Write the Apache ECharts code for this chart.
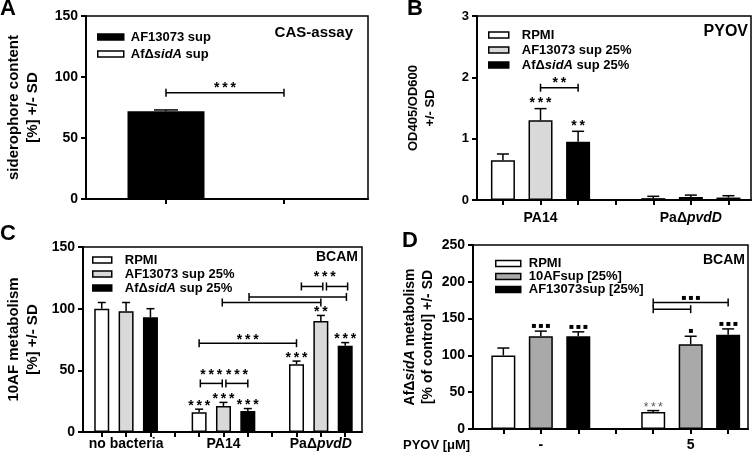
<!DOCTYPE html>
<html><head><meta charset="utf-8">
<script src="https://cdn.jsdelivr.net/npm/echarts@6/dist/echarts.min.js"></script>
<style>html,body{margin:0;padding:0;background:#fff}#c{width:756px;height:457px}</style>
</head><body><div id="c"></div>
<script>
// ================= DATA =================
// Panel A – CAS-assay
const seriesA = ['AF13073 sup', 'AfΔsidA sup'];
const valuesA = [72, 0];
const sdA = [1, 0];
const bracketsA = [[0, 1, 87]];
const bracketTextA = [[0.5, 93.5, '***']];

// Panel B – PYOV
const groupsB = ['PA14', 'PaΔpvdD'];
const seriesB = ['RPMI', 'AF13073 sup 25%', 'AfΔsidA sup 25%'];
const rpmiB = [0.65, 0.03];
const af13073B = [1.30, 0.05];
const sidAB = [0.95, 0.04];
const rpmiSdB = [0.10, 0.03];
const af13073SdB = [0.19, 0.03];
const sidASdB = [0.17, 0.03];
const barStarsB = [[0, 1, '***'], [0, 2, '**']];      // [group, series, label]
const bracketsB = [[1, 2, 1.83]];
const bracketTextB = [[1.5, 1.96, '**']];

// Panel C – BCAM (10AF metabolism)
const groupsC = ['no bacteria', 'PA14', 'PaΔpvdD'];
const seriesC = ['RPMI', 'AF13073 sup 25%', 'AfΔsidA sup 25%'];
const rpmiC = [100, 16, 55];
const af13073C = [98, 21, 90];
const sidAC = [93, 17, 70];
const rpmiSdC = [5, 2.5, 2.5];
const af13073SdC = [7, 3, 4.5];
const sidASdC = [7, 2, 2.5];
const barStarsC = [[1, 0, '***'], [1, 1, '***'], [1, 2, '***'], [2, 0, '***'], [2, 1, '**'], [2, 2, '***']];
const bracketsC = [[4.05, 4.95, 39.4], [5.1, 6.0, 39.4], [4, 8, 72], [4.95, 9, 105], [6.05, 10.05, 109.5], [8.2, 9.08, 118], [9.23, 10.1, 118]];
const bracketTextC = [[4.5, 48.3, '***'], [5.55, 48.3, '***'], [6, 76.8, '***'], [9.16, 128, '***']];

// Panel D – BCAM (AfΔsidA metabolism)
const groupsD = ['-', '5'];
const seriesD = ['RPMI', '10AFsup [25%]', 'AF13073sup [25%]'];
const rpmiD = [100, 23];
const tenAFD = [126, 115];
const af13073D = [126, 128];
const rpmiSdD = [10, 2];
const tenAFSdD = [7, 11];
const af13073SdD = [6, 8];
const barStarsD = [[0, 1, '▪▪▪'], [0, 2, '▪▪▪'], [1, 1, '▪'], [1, 2, '▪▪▪']];
const barStarsD2 = [[1, 0, '***']];
const bracketsD = [[4, 6, 171.8], [4, 5, 162.8]];
const bracketTextD = [[5, 177.7, '▪▪▪']];

// ================= CHART =================
const FONT = '"Liberation Sans", Arial, sans-serif';
const WHITE = '#ffffff', LGRAY = '#d9d9d9', DGRAY = '#a9a9a9', BLACK = '#000000';
const SP = '\u2009';
const spaced = s => s.split('').join(SP);
const ital = s => s.replace(/Δ([A-Za-z]+)/, 'Δ{i|$1}');
const richI = (size) => ({ i: { fontSize: size, fontWeight: 'bold', fontStyle: 'italic', fontFamily: FONT, color: '#000' } });

const grids = [
  { left: 86, top: 16, width: 282, height: 183 },
  { left: 477, top: 16, width: 274, height: 184 },
  { left: 83, top: 247, width: 279, height: 185 },
  { left: 473, top: 245, width: 275, height: 184 }
].map(g => Object.assign(g, { show: true, borderColor: '#000', borderWidth: 1.5, backgroundColor: 'transparent' }));

function yAx(gi, max, interval, name, nameSize, lh, gap, labelSize) {
  return {
    type: 'value', gridIndex: gi, min: 0, max: max, interval: interval,
    name: name, nameLocation: 'middle', nameRotate: 90, nameGap: gap,
    nameTextStyle: { fontSize: nameSize, fontWeight: 'bold', fontFamily: FONT, color: '#000', lineHeight: lh,
      rich: { i: { fontSize: nameSize, fontWeight: 'bold', fontStyle: 'italic', fontFamily: FONT, color: '#000', lineHeight: lh } } },
    axisLine: { show: true, onZero: false, lineStyle: { color: '#000', width: 2 } },
    axisTick: { show: true, length: 5, lineStyle: { color: '#000', width: 2 } },
    axisLabel: { fontSize: labelSize, fontWeight: 'bold', fontFamily: FONT, color: '#000', margin: 8 },
    splitLine: { show: false }
  };
}
function xAx(gi, min, max, ticks, labelVals, groups, margin) {
  return {
    type: 'value', gridIndex: gi, min: min, max: max,
    axisLine: { show: true, onZero: false, lineStyle: { color: '#000', width: 2 } },
    axisTick: { show: true, customValues: ticks, length: 5, lineStyle: { color: '#000', width: 2 } },
    axisLabel: { show: !!labelVals, customValues: labelVals || [], margin: margin || 8,
      formatter: v => groups ? ital(groups[Math.round((v - 1) / 4)]) : '',
      fontSize: 14, fontWeight: 'bold', fontFamily: FONT, color: '#000', rich: richI(14) },
    splitLine: { show: false }
  };
}
const range = n => Array.from({ length: n }, (_, i) => i);

function barSeries(gi, name, xs, vals, color) {
  return {
    type: 'bar', name: name, xAxisIndex: gi, yAxisIndex: gi,
    barWidth: [77, 24, 15, 24][gi], barGap: '-100%',
    itemStyle: { color: color, borderColor: '#000', borderWidth: 1.5 },
    data: vals.map((v, i) => [xs[i], v]), z: 2
  };
}
function errSeries(gi, xs, vals, sds, cap) {
  return {
    type: 'custom', name: 'err' + gi, xAxisIndex: gi, yAxisIndex: gi, z: 3,
    data: vals.map((v, i) => [xs[i], v, sds[i]]),
    renderItem: (params, api) => {
      const x = api.value(0), m = api.value(1), sd = api.value(2);
      if (!(sd > 0)) return;
      const p0 = api.coord([x, m]), p1 = api.coord([x, m + sd]);
      const st = { stroke: '#000', lineWidth: 1.5 };
      return { type: 'group', children: [
        { type: 'line', shape: { x1: p0[0], y1: p0[1], x2: p1[0], y2: p1[1] }, style: st },
        { type: 'line', shape: { x1: p1[0] - cap, y1: p1[1], x2: p1[0] + cap, y2: p1[1] }, style: st }
      ] };
    }
  };
}
function bracketSeries(gi, br) {
  return {
    type: 'custom', name: 'br' + gi, xAxisIndex: gi, yAxisIndex: gi, z: 4,
    data: br, encode: { x: [0, 1], y: 2 },
    renderItem: (params, api) => {
      const y = api.value(2);
      const a = api.coord([api.value(0), y]), b = api.coord([api.value(1), y]);
      const h = 4, st = { stroke: '#000', lineWidth: 1.5 };
      return { type: 'group', children: [
        { type: 'line', shape: { x1: a[0], y1: a[1], x2: b[0], y2: b[1] }, style: st },
        { type: 'line', shape: { x1: a[0], y1: a[1] - h, x2: a[0], y2: a[1] + h }, style: st },
        { type: 'line', shape: { x1: b[0], y1: b[1] - h, x2: b[0], y2: b[1] + h }, style: st }
      ] };
    }
  };
}
function textSeries(gi, pts, labels, pxOff, size, color, weight) {
  return {
    type: 'custom', name: 'txt' + gi, xAxisIndex: gi, yAxisIndex: gi, z: 5,
    data: pts,
    renderItem: (params, api) => {
      const p = api.coord([api.value(0), api.value(1)]);
      const lab = labels[params.dataIndex];
      const isStar = lab.indexOf('*') >= 0;
      return { type: 'text', x: p[0], y: p[1] - pxOff + (isStar ? 3 : 0),
        style: { text: spaced(lab), align: 'center', verticalAlign: 'middle',
          fontSize: size, fontWeight: weight || 'normal',
          fontFamily: isStar ? FONT : '"DejaVu Sans", sans-serif', fill: color } };
    }
  };
}
// bar-star helper: anchored on top of the error bar (derived from data arrays)
function barStarPts(list, valArrs, sdArrs) {
  return list.map(([g, s]) => [g * 4 + s, valArrs[s][g] + sdArrs[s][g]]);
}
function barStarLabels(list) { return list.map(r => r[2]); }

const series = [];
// A
const xsA = [0, 1];
series.push(barSeries(0, seriesA[0], [xsA[0]], [valuesA[0]], BLACK));
series.push(barSeries(0, seriesA[1], [xsA[1]], [valuesA[1]], WHITE));
series.push(errSeries(0, xsA, valuesA, sdA, 12));
series.push(bracketSeries(0, bracketsA));
series.push(textSeries(0, bracketTextA.map(r => [r[0], r[1]]), bracketTextA.map(r => r[2]), 0, 14, '#000', 'bold'));
// B
const valsB = [rpmiB, af13073B, sidAB], sdsB = [rpmiSdB, af13073SdB, sidASdB], colB = [WHITE, LGRAY, BLACK];
valsB.forEach((v, s) => {
  const xs = v.map((_, g) => g * 4 + s);
  series.push(barSeries(1, seriesB[s], xs, v, colB[s]));
});
valsB.forEach((v, s) => series.push(errSeries(1, v.map((_, g) => g * 4 + s), v, sdsB[s], 6)));
series.push(bracketSeries(1, bracketsB));
series.push(textSeries(1, bracketTextB.map(r => [r[0], r[1]]), bracketTextB.map(r => r[2]), 0, 14, '#000', 'bold'));
series.push(textSeries(1, barStarPts(barStarsB, valsB, sdsB), barStarLabels(barStarsB), 8, 14, '#000', 'bold'));
// C
const valsC = [rpmiC, af13073C, sidAC], sdsC = [rpmiSdC, af13073SdC, sidASdC], colC = [WHITE, LGRAY, BLACK];
valsC.forEach((v, s) => {
  const xs = v.map((_, g) => g * 4 + s);
  series.push(barSeries(2, seriesC[s], xs, v, colC[s]));
});
valsC.forEach((v, s) => series.push(errSeries(2, v.map((_, g) => g * 4 + s), v, sdsC[s], 4)));
series.push(bracketSeries(2, bracketsC));
series.push(textSeries(2, bracketTextC.map(r => [r[0], r[1]]), bracketTextC.map(r => r[2]), 0, 14, '#000', 'bold'));
series.push(textSeries(2, barStarPts(barStarsC, valsC, sdsC), barStarLabels(barStarsC), 6, 14, '#000', 'bold'));
// D
const valsD = [rpmiD, tenAFD, af13073D], sdsD = [rpmiSdD, tenAFSdD, af13073SdD], colD = [WHITE, DGRAY, BLACK];
valsD.forEach((v, s) => {
  const xs = v.map((_, g) => g * 4 + s);
  series.push(barSeries(3, seriesD[s], xs, v, colD[s]));
});
valsD.forEach((v, s) => series.push(errSeries(3, v.map((_, g) => g * 4 + s), v, sdsD[s], 6)));
series.push(bracketSeries(3, bracketsD));
series.push(textSeries(3, bracketTextD.map(r => [r[0], r[1]]), bracketTextD.map(r => r[2]), 0, 8, '#000'));
series.push(textSeries(3, barStarPts(barStarsD, valsD, sdsD), barStarLabels(barStarsD), 5, 8, '#000'));
series.push(textSeries(3, barStarPts(barStarsD2, valsD, sdsD), barStarLabels(barStarsD2), 6, 12, '#555'));

function legend(names, left, top, w, lh, gap, pad) {
  return {
    orient: 'vertical', left: left, top: top, icon: 'rect', itemWidth: w, itemHeight: 6, itemGap: gap,
    selectedMode: false, data: names, formatter: n => ital(n),
    itemStyle: { borderColor: '#000', borderWidth: 1.5 },
    textStyle: { fontSize: 13, fontWeight: 'bold', fontFamily: FONT, color: '#000', lineHeight: lh, padding: [0, 0, 0, pad],
      rich: { i: { fontSize: 13, fontWeight: 'bold', fontStyle: 'italic', fontFamily: FONT, color: '#000', lineHeight: lh } } }
  };
}

const txt = (x, y, text, size, align, extra) => ({ type: 'text', x: x, y: y, z: 10,
  style: Object.assign({ text: text, align: align || 'left', verticalAlign: 'middle', fontSize: size, fontWeight: 'bold', fontFamily: FONT, fill: '#000' }, extra || {}) });

const option = {
  animation: false,
  backgroundColor: '#fff',
  grid: grids,
  xAxis: [
    xAx(0, -0.678, 1.712, [0, 1], null, null),
    xAx(1, -0.69, 6.6, range(7), [1, 5], groupsB, 11),
    xAx(2, -0.77, 10.69, range(11), [1, 5, 9], groupsC, 5),
    xAx(3, -0.81, 6.53, range(7), [1, 5], groupsD, 9)
  ],
  yAxis: [
    yAx(0, 150, 50, 'siderophore content\n[%] +/- SD', 15, 19, 44, 14),
    yAx(1, 3, 1, 'OD405/OD600\n+/- SD', 13, 17, 38, 13),
    yAx(2, 150, 50, '10AF metabolism\n[%] +/- SD', 15, 19, 41, 14),
    yAx(3, 250, 50, ital('AfΔsidA metabolism') + '\n[% of control] +/- SD', 14, 18, 36, 14)
  ],
  legend: [
    legend(seriesA, 92, 25, 26, 14, 3, 2),
    legend(seriesB, 483, 23, 20, 14, 1, 8),
    legend(seriesC, 87, 248, 19, 14, 0, 8),
    legend(seriesD, 490, 252, 25, 13, 0, 3)
  ],
  graphic: [
    txt(0, 9, 'A', 22), txt(407, 9, 'B', 22), txt(0, 234, 'C', 22), txt(402, 241, 'D', 22),
    txt(353, 33, 'CAS-assay', 15, 'right'),
    txt(748, 32, 'PYOV', 16, 'right'),
    txt(358, 257, 'BCAM', 14, 'right'),
    txt(745, 260, 'BCAM', 14, 'right'),
    txt(403, 445, 'PYOV [μM]', 13, 'left')
  ],
  series: series
};
const chart = echarts.init(document.getElementById('c'));
chart.setOption(option);
</script></body></html>
